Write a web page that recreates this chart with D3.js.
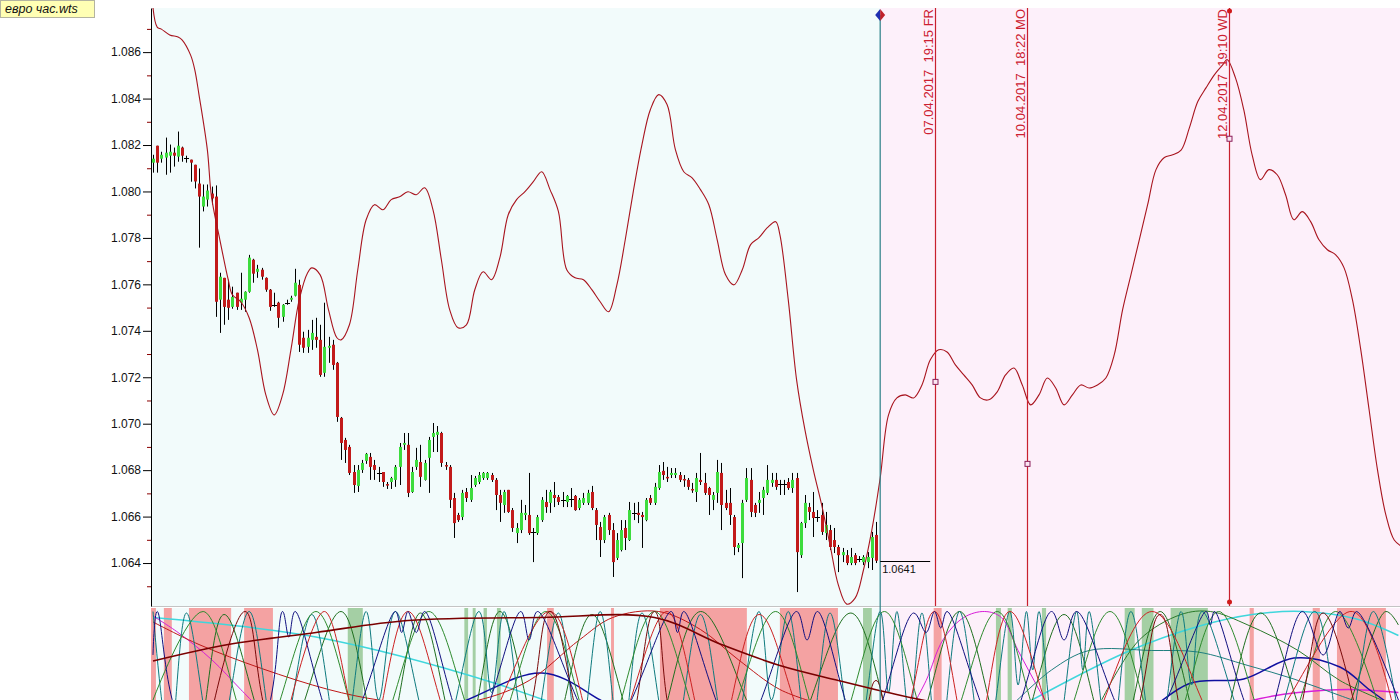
<!DOCTYPE html>
<html>
<head>
<meta charset="utf-8">
<script src="https://d3js.org/d3.v7.min.js"></script>
<style>
body{margin:0;background:#fff;}
svg{display:block;font-family:"Liberation Sans",Arial,sans-serif;}
</style>
</head>
<body>
<svg id="chart" width="1400" height="700"></svg>
<script>
// hourly EUR candles (bar index 0..173)
var opens = [1.08124,1.08197,1.08141,1.08146,1.08154,1.08167,1.08150,1.08189,1.08146,1.08137,1.08115,1.08034,1.07935,1.07965,1.07991,1.07978,1.07534,1.07628,1.07534,1.07503,1.07564,1.07521,1.07534,1.07568,1.07706,1.07654,1.07663,1.07628,1.07577,1.07512,1.07521,1.07460,1.07521,1.07534,1.07551,1.07598,1.07370,1.07331,1.07361,1.07374,1.07361,1.07219,1.07327,1.07340,1.07262,1.07025,1.06930,1.06900,1.06792,1.06732,1.06801,1.06840,1.06857,1.06822,1.06788,1.06792,1.06740,1.06749,1.06758,1.06814,1.06909,1.06909,1.06706,1.06814,1.06835,1.06758,1.06853,1.06943,1.06952,1.06960,1.06822,1.06814,1.06680,1.06607,1.06598,1.06706,1.06672,1.06736,1.06749,1.06766,1.06766,1.06779,1.06758,1.06693,1.06650,1.06715,1.06628,1.06529,1.06542,1.06607,1.06607,1.06534,1.06529,1.06585,1.06663,1.06659,1.06693,1.06684,1.06672,1.06663,1.06676,1.06689,1.06637,1.06659,1.06659,1.06706,1.06628,1.06555,1.06499,1.06607,1.06542,1.06422,1.06456,1.06551,1.06499,1.06616,1.06616,1.06607,1.06585,1.06680,1.06659,1.06723,1.06797,1.06771,1.06779,1.06779,1.06779,1.06762,1.06758,1.06719,1.06706,1.06758,1.06745,1.06723,1.06672,1.06702,1.06788,1.06659,1.06659,1.06598,1.06465,1.06486,1.06672,1.06758,1.06650,1.06659,1.06680,1.06702,1.06745,1.06758,1.06740,1.06740,1.06749,1.06723,1.06766,1.06434,1.06572,1.06641,1.06620,1.06598,1.06607,1.06529,1.06542,1.06499,1.06469,1.06434,1.06434,1.06400,1.06434,1.06417,1.06404,1.06404,1.06422,1.06521];
var highs = [1.08158,1.08197,1.08171,1.08232,1.08202,1.08189,1.08258,1.08193,1.08154,1.08137,1.08115,1.08099,1.08030,1.08030,1.08021,1.08026,1.07650,1.07628,1.07620,1.07590,1.07564,1.07650,1.07570,1.07727,1.07710,1.07684,1.07671,1.07630,1.07580,1.07564,1.07525,1.07515,1.07534,1.07551,1.07667,1.07620,1.07396,1.07404,1.07447,1.07456,1.07426,1.07521,1.07374,1.07361,1.07266,1.07029,1.06939,1.06909,1.06822,1.06822,1.06844,1.06874,1.06874,1.06844,1.06814,1.06792,1.06749,1.06771,1.06822,1.06917,1.06960,1.06960,1.06814,1.06896,1.06909,1.06844,1.06943,1.07003,1.06990,1.06965,1.06835,1.06822,1.06702,1.06616,1.06715,1.06723,1.06779,1.06775,1.06792,1.06792,1.06792,1.06788,1.06766,1.06715,1.06715,1.06715,1.06637,1.06572,1.06672,1.06650,1.06788,1.06551,1.06607,1.06684,1.06715,1.06715,1.06749,1.06693,1.06706,1.06693,1.06723,1.06693,1.06680,1.06702,1.06715,1.06732,1.06637,1.06577,1.06607,1.06616,1.06572,1.06529,1.06585,1.06585,1.06663,1.06659,1.06663,1.06620,1.06680,1.06693,1.06745,1.06822,1.06835,1.06814,1.06809,1.06809,1.06792,1.06779,1.06766,1.06745,1.06788,1.06874,1.06788,1.06728,1.06706,1.06844,1.06831,1.06715,1.06723,1.06607,1.06486,1.06672,1.06809,1.06809,1.06659,1.06706,1.06728,1.06822,1.06788,1.06788,1.06758,1.06758,1.06766,1.06788,1.06788,1.06577,1.06693,1.06659,1.06706,1.06628,1.06659,1.06620,1.06564,1.06551,1.06478,1.06465,1.06456,1.06465,1.06443,1.06430,1.06434,1.06447,1.06534,1.06577];
var lows = [1.08081,1.08081,1.08124,1.08072,1.08081,1.08107,1.08128,1.08128,1.08124,1.08042,1.08013,1.07758,1.07914,1.07935,1.07944,1.07460,1.07391,1.07426,1.07447,1.07495,1.07490,1.07490,1.07482,1.07564,1.07607,1.07628,1.07620,1.07568,1.07486,1.07503,1.07413,1.07439,1.07512,1.07525,1.07548,1.07309,1.07305,1.07305,1.07318,1.07327,1.07202,1.07202,1.07262,1.07232,1.07008,1.06844,1.06831,1.06779,1.06702,1.06706,1.06788,1.06827,1.06758,1.06758,1.06749,1.06728,1.06719,1.06719,1.06728,1.06736,1.06887,1.06684,1.06702,1.06801,1.06728,1.06755,1.06702,1.06878,1.06878,1.06814,1.06801,1.06637,1.06508,1.06577,1.06585,1.06663,1.06663,1.06728,1.06740,1.06758,1.06758,1.06749,1.06628,1.06577,1.06616,1.06616,1.06534,1.06486,1.06529,1.06585,1.06521,1.06404,1.06521,1.06577,1.06616,1.06616,1.06641,1.06650,1.06641,1.06641,1.06641,1.06625,1.06628,1.06650,1.06650,1.06628,1.06499,1.06426,1.06486,1.06521,1.06340,1.06413,1.06450,1.06456,1.06495,1.06585,1.06572,1.06465,1.06580,1.06650,1.06650,1.06715,1.06758,1.06749,1.06766,1.06766,1.06749,1.06728,1.06715,1.06702,1.06663,1.06736,1.06693,1.06607,1.06628,1.06659,1.06542,1.06628,1.06564,1.06434,1.06447,1.06335,1.06663,1.06598,1.06598,1.06616,1.06607,1.06693,1.06728,1.06715,1.06693,1.06693,1.06715,1.06702,1.06275,1.06422,1.06551,1.06585,1.06512,1.06577,1.06521,1.06499,1.06456,1.06443,1.06361,1.06404,1.06391,1.06391,1.06391,1.06404,1.06391,1.06378,1.06370,1.06400];
var closes = [1.08141,1.08124,1.08158,1.08167,1.08171,1.08154,1.08197,1.08154,1.08146,1.08124,1.08043,1.07978,1.07978,1.08004,1.07970,1.07525,1.07633,1.07503,1.07499,1.07546,1.07503,1.07538,1.07568,1.07715,1.07646,1.07667,1.07633,1.07577,1.07503,1.07512,1.07456,1.07512,1.07521,1.07542,1.07607,1.07340,1.07327,1.07370,1.07391,1.07361,1.07210,1.07331,1.07335,1.07253,1.07029,1.06917,1.06887,1.06788,1.06736,1.06801,1.06831,1.06870,1.06814,1.06801,1.06788,1.06749,1.06736,1.06766,1.06814,1.06900,1.06917,1.06702,1.06792,1.06844,1.06771,1.06831,1.06930,1.06960,1.06965,1.06831,1.06818,1.06672,1.06572,1.06585,1.06702,1.06680,1.06723,1.06766,1.06779,1.06788,1.06788,1.06758,1.06693,1.06659,1.06706,1.06620,1.06551,1.06551,1.06616,1.06616,1.06529,1.06534,1.06598,1.06672,1.06641,1.06706,1.06680,1.06663,1.06672,1.06689,1.06676,1.06628,1.06672,1.06680,1.06702,1.06637,1.06564,1.06499,1.06598,1.06542,1.06404,1.06499,1.06542,1.06508,1.06628,1.06616,1.06607,1.06598,1.06672,1.06659,1.06728,1.06792,1.06779,1.06766,1.06788,1.06788,1.06758,1.06758,1.06728,1.06715,1.06766,1.06749,1.06702,1.06693,1.06693,1.06792,1.06650,1.06637,1.06607,1.06469,1.06478,1.06659,1.06766,1.06620,1.06616,1.06672,1.06715,1.06758,1.06758,1.06728,1.06740,1.06740,1.06723,1.06758,1.06447,1.06572,1.06659,1.06620,1.06594,1.06598,1.06534,1.06564,1.06469,1.06469,1.06434,1.06447,1.06400,1.06426,1.06400,1.06417,1.06426,1.06426,1.06512,1.06410];

// projected line (bar index, price)
var forecastIdx = [0,1,2,4,6,7,9,10,11,13,14,16,18,19,21,23,25,27,29,31,33,35,37,38,40,42,44,45,47,49,51,53,55,57,59,61,63,65,67,69,71,73,75,77,79,81,83,85,87,89,91,93,95,97,99,101,103,105,107,109,111,113,115,117,119,121,123,125,127,129,131,133,135,137,139,141,143,145,147,149,150,152,154,156,158,160,162,164,166,168,170,172,174,176,178,180,182,184,186,188,190,192,194,196,198,200,202,204,206,208,210,212,214,216,218,220,222,224,226,228,230,232,234,236,238,240,242,244,246,248,250,252,254,256,257,259,261,263,265,267,269,271,273,275,277,279,281,283,285,287,289,291,293,295,297,299];
var forecastVal = [1.08790,1.08708,1.08699,1.08674,1.08665,1.08652,1.08587,1.08524,1.08417,1.08180,1.07977,1.07792,1.07620,1.07555,1.07525,1.07456,1.07318,1.07124,1.07038,1.07124,1.07318,1.07534,1.07650,1.07671,1.07641,1.07490,1.07370,1.07361,1.07426,1.07663,1.07878,1.07943,1.07921,1.07965,1.07977,1.07999,1.07986,1.08016,1.07921,1.07706,1.07490,1.07413,1.07426,1.07577,1.07654,1.07620,1.07715,1.07900,1.07965,1.07999,1.08042,1.08085,1.08008,1.07914,1.07663,1.07628,1.07620,1.07577,1.07525,1.07482,1.07598,1.07792,1.08008,1.08202,1.08352,1.08417,1.08374,1.08180,1.08085,1.08059,1.08008,1.07943,1.07792,1.07641,1.07598,1.07663,1.07771,1.07801,1.07844,1.07870,1.07814,1.07534,1.07189,1.06973,1.06801,1.06650,1.06478,1.06305,1.06223,1.06249,1.06370,1.06542,1.06766,1.07038,1.07111,1.07124,1.07111,1.07167,1.07275,1.07318,1.07309,1.07253,1.07210,1.07167,1.07111,1.07103,1.07137,1.07210,1.07240,1.07167,1.07081,1.07124,1.07197,1.07154,1.07081,1.07124,1.07167,1.07154,1.07167,1.07197,1.07296,1.07490,1.07641,1.07792,1.07943,1.08094,1.08146,1.08158,1.08178,1.08275,1.08387,1.08447,1.08503,1.08546,1.08568,1.08490,1.08352,1.08158,1.08051,1.08094,1.08072,1.07986,1.07878,1.07913,1.07870,1.07792,1.07749,1.07727,1.07671,1.07534,1.07318,1.07059,1.06801,1.06607,1.06499,1.06469];

var nowIdx = 174;
var markerIdx = [187.1, 209.1, 257.4];
var markerLabels = ["07.04.2017  19:15 FR", "10.04.2017  18:22 MO", "12.04.2017  19:10 WD"];
var markerPrices = [1.07180, 1.06827, 1.08227];
var majorTicks = [1.064,1.066,1.068,1.070,1.072,1.074,1.076,1.078,1.080,1.082,1.084,1.086];
var minorTicks = [1.063,1.065,1.067,1.069,1.071,1.073,1.075,1.077,1.079,1.081,1.083,1.085,1.087];

// lower panel: shaded bar ranges
var redBands = [[-0.5,0.7],[2.6,4.5],[8.6,18.7],[21.8,28.7],[94.3,95.9],[109.6,110.3],[121.3,142.1],[150,163.9],[186.8,188.7],[262.4,263.4],[277.5,279.2],[283.3,295]];
var greenBands = [[46.6,50.2],[74.5,75.4],[76.5,77.2],[79.1,79.9],[82.3,83.2],[169.9,172],[201.7,202.9],[204.5,205.5],[212.7,213.7],[232.5,234.9],[236.6,239.4],[243.5,252.4]];

// lower panel cycles, [bar index, level 0..100]
var darkRedSlow = [[0,66],[18,77],[39,85],[61,93],[93,95],[120,95],[136,77],[150,63],[164,53],[179,43],[193,35]];
var redSlow = [[0,92],[11,77],[26,61],[42,47],[54,40],[66,37],[78,40],[90,53],[102,80],[110,95],[121,99],[131,87],[140,67],[150,47],[160,37]];
var cyanLeft = [[0,95],[39,82],[82,51],[117,15]];
var cyanRight = [[207,35],[233,72],[250,89],[263,97],[275,99],[288,94],[298,83]];
var navySlowA = [[54,30],[71,36],[93,58],[107,40],[119,17]];
var navySlowB = [[236,27],[248,51],[261,54],[273,68],[284,62],[291,47],[298,33]];
var tealSlow = [[205,35],[215,60],[224,73],[239,73],[250,72],[262,63],[273,54],[284,43],[294,33]];
var greenSlow = [[227,40],[236,80],[246,97],[253,99],[262,90],[274,73],[284,53],[294,40]];
var magentaA = [[0,96],[6,85],[14,67],[21,47],[28,27]];
var magentaB = [[180,27],[185,53],[189,80],[194,95],[199,99],[203,95],[207,73],[212,47],[216,27]];
var magentaC = [[255,33],[265,41],[274,45],[286,47],[298,45]];
var navyFast = [[0,70],[1,99],[8,20],[25,20],[31,99],[32.5,82],[34,99],[45,15],[58,99],[59.5,85],[61,99],[63,85],[65,99],[76,15],[88,99],[90,80],[92,99],[108,15],[124,99],[125.5,85],[127,99],[140,15],[154,99],[156.5,80],[159,99],[170,15],[182,98],[185,85],[187,99],[188.5,88],[190,99],[203,15],[215,99],[218,80],[221,99],[236,15],[252,99],[253,90],[254,99],[265,20],[275,99],[280,70],[284,99],[286,88],[288,99],[298,40]];
var greenFast = [[0,40],[12,99],[25,10],[39,99],[52,10],[66,99],[80,10],[94,99],[107,10],[120,99],[134,10],[149,99],[162,10],[175,99],[188,10],[202,99],[215,10],[229,99],[242,10],[255,99],[269,10],[283,99],[296,10]];
var greenFast2 = [[0,30],[9,5],[17,97],[30,5],[45,99],[55,5],[64,98],[74,5],[83,99],[94,5],[105,97],[118,5],[131,99],[150,5],[167,98],[180,5],[193,99],[205,5],[218,97],[230,5],[241,99],[253,5],[265,98],[280,5],[295,99],[298,90]];
var redFast = [[30,5],[41,99],[51,5],[61,99],[75,5],[95,99],[108,5],[123,99],[134,5],[145,97],[160,5],[176,5],[187,99],[196,5],[205,99],[220,5],[239,99],[260,5],[287,99],[298,20]];
var darkRedFast = [[12,5],[22,99],[32,5],[85,5],[95,99],[105,5],[112,5],[120,99],[128,5],[168,20],[173,53],[178,20],[230,5],[241,97],[250,5],[270,5],[280,98],[290,5]];
var tealFast = [[0,99],[4,10],[8,98],[15,5],[23,99],[30,5],[38,97],[45,5],[51,99],[54,40],[58,99],[68,5],[78,99],[81,45],[84,99],[90,5],[97,98],[102,10],[107,99],[112,10],[117,98],[124,5],[131,97],[138,5],[145,99],[148,40],[152,99],[157,10],[162,98],[168,5],[174,99],[176,45],[178,99],[181,30],[184,98],[188,5],[193,99],[199,5],[205,99],[207,50],[209,99],[210.5,60],[212,99],[216,10],[221,99],[222.5,60],[224,99],[229,5],[234,99],[240,5],[246,99],[248.5,50],[251,99],[265,5],[278,99],[285,5],[292,99],[298,30]];

var svg = d3.select("#chart");
var L = 151, R = 1400, T = 8, B = 606, BT = 608, BB = 700;

var x = d3.scaleLinear().domain([0, 173]).range([153, 876]);
var y = d3.scaleLinear().domain([1.06215, 1.0879]).range([606, 8]);
var yb = d3.scaleLinear().domain([0, 100]).range([760, 610]);
var xNow = x(nowIdx);

var defs = svg.append("defs");
defs.append("clipPath").attr("id", "clipMain").append("rect")
    .attr("x", L).attr("y", T).attr("width", R - L).attr("height", B - T);
defs.append("clipPath").attr("id", "clipLow").append("rect")
    .attr("x", L).attr("y", BT).attr("width", R - L).attr("height", BB - BT);

// panel backgrounds: history / future
svg.append("rect").attr("x", L).attr("y", T).attr("width", xNow - L).attr("height", B - T).attr("fill", "#f2fbfb");
svg.append("rect").attr("x", xNow).attr("y", T).attr("width", R - xNow).attr("height", B - T).attr("fill", "#fdf0fa");
svg.append("rect").attr("x", L).attr("y", BT).attr("width", xNow - L).attr("height", BB - BT).attr("fill", "#f2fbfb");
svg.append("rect").attr("x", xNow).attr("y", BT).attr("width", R - xNow).attr("height", BB - BT).attr("fill", "#fdf0fa");
svg.append("line").attr("x1", L).attr("x2", R).attr("y1", B + 0.5).attr("y2", B + 0.5)
    .attr("stroke", "#c4c4c4");

// lower panel
var low = svg.append("g").attr("clip-path", "url(#clipLow)");
low.selectAll(".rb").data(redBands).enter().append("rect")
    .attr("x", function(d) { return x(d[0]); })
    .attr("width", function(d) { return x(d[1]) - x(d[0]); })
    .attr("y", BT).attr("height", BB - BT).attr("fill", "#f4a2a2");
low.selectAll(".gb").data(greenBands).enter().append("rect")
    .attr("x", function(d) { return x(d[0]); })
    .attr("width", function(d) { return x(d[1]) - x(d[0]); })
    .attr("y", BT).attr("height", BB - BT).attr("fill", "#a4cfa4");

var cycleLine = d3.line()
    .x(function(d) { return x(d[0]); })
    .y(function(d) { return yb(d[1]); })
    .curve(d3.curveCatmullRom.alpha(0.5));

var cycles = [
    {d: cyanLeft, c: "#3fd6dc", w: 1.5},
    {d: cyanRight, c: "#3fd6dc", w: 1.5},
    {d: magentaA, c: "#d81ed8", w: 1},
    {d: magentaB, c: "#d81ed8", w: 1},
    {d: magentaC, c: "#d81ed8", w: 1.5},
    {d: tealSlow, c: "#1f7f7f", w: 1},
    {d: greenSlow, c: "#2a7a2a", w: 1},
    {d: navySlowA, c: "#1010a0", w: 1.5},
    {d: navySlowB, c: "#1010a0", w: 1.5},
    {d: redSlow, c: "#c01818", w: 1},
    {d: greenFast2, c: "#1f6f1f", w: 1},
    {d: tealFast, c: "#0e7a7e", w: 1},
    {d: greenFast, c: "#2e8b2e", w: 1},
    {d: redFast, c: "#cc2222", w: 1},
    {d: darkRedFast, c: "#7a0a0a", w: 1},
    {d: navyFast, c: "#101080", w: 1},
    {d: darkRedSlow, c: "#7a0000", w: 1.6}
];
low.selectAll(".cyc").data(cycles).enter().append("path")
    .attr("fill", "none")
    .attr("stroke", function(d) { return d.c; })
    .attr("stroke-width", function(d) { return d.w; })
    .attr("d", function(d) { return cycleLine(d.d); });

// y axis
var yAxis = svg.append("g").attr("transform", "translate(" + L + ",0)")
    .call(d3.axisLeft(y).tickValues(majorTicks).tickSize(8).tickSizeOuter(0).tickPadding(2)
        .tickFormat(d3.format(".3f")));
yAxis.selectAll("text").style("font-size", "12px").attr("fill", "#111");
yAxis.selectAll("line").attr("stroke", "#000");
yAxis.select(".domain").attr("stroke", "#000");
svg.append("g").attr("transform", "translate(" + L + ",0)")
    .call(d3.axisLeft(y).tickValues(minorTicks).tickSize(4).tickSizeOuter(0).tickFormat(""))
    .call(function(g) { g.select(".domain").remove(); })
    .selectAll("line").attr("stroke", "#8b0000");

// candles
var candles = opens.map(function(o, i) {
    return {i: i, o: o, h: highs[i], l: lows[i], c: closes[i]};
});
var cg = svg.append("g").attr("clip-path", "url(#clipMain)");
var cx = function(d) { return Math.round(x(d.i)) + 0.5; };
cg.selectAll(".wick").data(candles).enter().append("line")
    .attr("x1", cx).attr("x2", cx)
    .attr("y1", function(d) { return y(d.h); })
    .attr("y2", function(d) { return y(d.l); })
    .attr("stroke", "#000").attr("stroke-width", 1);
cg.selectAll(".body").data(candles.filter(function(d) { return d.o != d.c; })).enter().append("rect")
    .attr("x", function(d) { return Math.round(x(d.i)) - 1; })
    .attr("width", 3)
    .attr("y", function(d) { return y(Math.max(d.o, d.c)); })
    .attr("height", function(d) { return Math.max(1.5, Math.abs(y(d.o) - y(d.c))); })
    .attr("fill", function(d) { return d.c > d.o ? "#3ddc3d" : "#c21a1a"; });
cg.selectAll(".doji").data(candles.filter(function(d) { return d.o == d.c; })).enter().append("line")
    .attr("x1", function(d) { return Math.round(x(d.i)) - 2; })
    .attr("x2", function(d) { return Math.round(x(d.i)) + 3; })
    .attr("y1", function(d) { return Math.round(y(d.c)) + 0.5; })
    .attr("y2", function(d) { return Math.round(y(d.c)) + 0.5; })
    .attr("stroke", "#000");

// projected line
var valueline = d3.line()
    .x(function(d) { return x(d[0]); })
    .y(function(d) { return y(d[1]); })
    .curve(d3.curveCatmullRom.alpha(0.5));
cg.append("path")
    .datum(d3.zip(forecastIdx, forecastVal))
    .attr("fill", "none")
    .attr("stroke", "#a8141e")
    .attr("stroke-width", 1.1)
    .attr("d", valueline);

// now line + diamond
svg.append("line").attr("x1", xNow).attr("x2", xNow).attr("y1", 15).attr("y2", BB)
    .attr("stroke", "#2a7f86").attr("stroke-width", 1.2);
svg.append("path").attr("d", "M" + xNow + ",9 L" + (xNow - 5) + ",15 L" + xNow + ",21 Z").attr("fill", "#1f2fb0");
svg.append("path").attr("d", "M" + xNow + ",9 L" + (xNow + 5) + ",15 L" + xNow + ",21 Z").attr("fill", "#c0202a");

// last price
var lastClose = closes[closes.length - 1];
svg.append("line").attr("x1", xNow).attr("x2", xNow + 50)
    .attr("y1", Math.round(y(lastClose)) + 0.5).attr("y2", Math.round(y(lastClose)) + 0.5)
    .attr("stroke", "#000");
svg.append("text").attr("x", xNow + 2).attr("y", y(lastClose) + 12)
    .text(d3.format(".4f")(lastClose)).style("font-size", "11px").attr("fill", "#111");

// date markers
markerIdx.forEach(function(m, k) {
    var mx = Math.round(x(m)) + 0.5;
    svg.append("line").attr("x1", mx).attr("x2", mx).attr("y1", T).attr("y2", B)
        .attr("stroke", "#c8202e").attr("stroke-width", 1.2);
    svg.append("text")
        .attr("transform", "translate(" + (mx - 3) + "," + (T + 1) + ") rotate(-90)")
        .attr("text-anchor", "end")
        .style("white-space", "pre")
        .style("font-size", "13px")
        .attr("fill", "#cc2030")
        .text(markerLabels[k]);
    svg.append("rect").attr("x", mx - 2.5).attr("y", y(markerPrices[k]) - 2.5)
        .attr("width", 5).attr("height", 5)
        .attr("fill", "#fbe6f3").attr("stroke", "#8b1f5a").attr("stroke-width", 1);
});
var lastMx = Math.round(x(markerIdx[2])) + 0.5;
svg.append("circle").attr("cx", lastMx).attr("cy", T + 3).attr("r", 2.5).attr("fill", "#d01a1a");
svg.append("circle").attr("cx", lastMx).attr("cy", B - 4).attr("r", 2.5).attr("fill", "#d01a1a");

// file label
svg.append("rect").attr("x", 0.5).attr("y", 0.5).attr("width", 94).attr("height", 17)
    .attr("fill", "#ffffb4").attr("stroke", "#b4b4a0");
svg.append("text").attr("x", 5).attr("y", 13).text("евро час.wts")
    .style("font-size", "12.5px").style("font-style", "italic").attr("fill", "#111");
</script>
</body>
</html>
